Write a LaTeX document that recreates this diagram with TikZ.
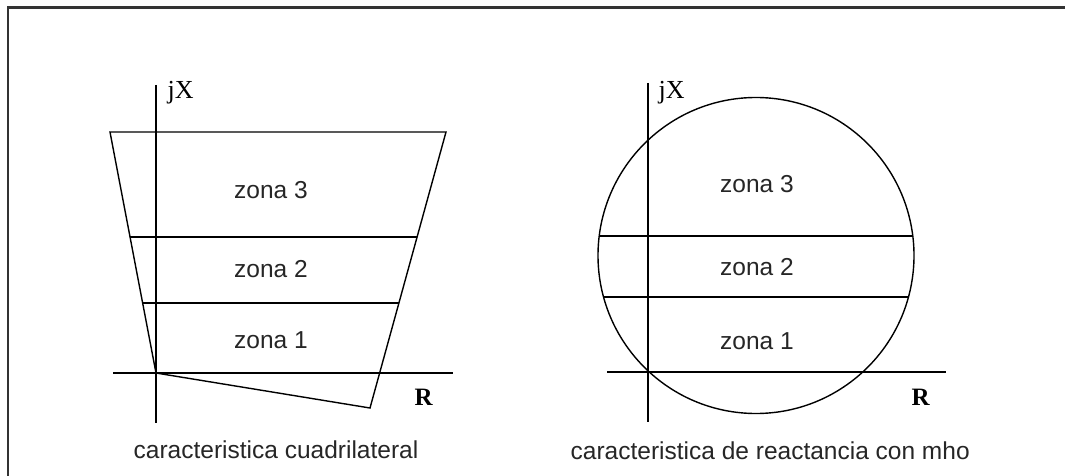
\documentclass[tikz,border=0pt]{standalone}
\usepackage{fontspec}
\setmainfont{Liberation Sans}
\newfontfamily\axfont{Liberation Serif}
\tikzset{
  zonelabel/.style={anchor=base, text=black!85, font=\fontsize{24.5}{28}\selectfont},
  axlabel/.style={anchor=base west, inner sep=0pt, font=\axfont\bfseries\fontsize{25}{28}\selectfont},
  captionlabel/.style={anchor=base west, inner sep=0pt, text=black!85, font=\fontsize{24.5}{28}\selectfont},
}
\begin{document}
\begin{tikzpicture}[x=1pt, y=-1pt, line width=1.4pt]
\useasboundingbox (0,0) rectangle (1065,476);
% marco
\draw[line width=2.2pt, black!80] (8,476) -- (8,7.5) -- (1065,7.5);

% caracteristica cuadrilateral
\coordinate (O1) at (156,373);
\coordinate (TL) at (110,132);
\coordinate (TR) at (446,132);
\coordinate (BR) at (370,408);
\draw (156,85) -- (156,423);
\draw (113,373) -- (453,373);
\draw (TL) -- (TR) -- (BR) -- (O1) -- cycle;
\begin{scope}
  \clip (TL) -- (TR) -- (BR) -- (O1) -- cycle;
  \foreach \y in {237,303}
    \draw (100,\y) -- (460,\y);
\end{scope}
\foreach \n/\y in {3/198, 2/277, 1/348}
  \node[zonelabel] (zq\n) at (271,\y) {zona \n};
\node[axlabel, font=\axfont\fontsize{26}{28}\selectfont] (jx1) at (167,99) {jX};
\node[axlabel] (r1) at (414,405) {R};
\node[captionlabel] (cap1) at (133,458) {caracteristica cuadrilateral};

% caracteristica mho
\coordinate (O2) at (648,372);
\coordinate (C2) at (756,255.5);
\draw (648,83) -- (648,422);
\draw (607,372) -- (946,372);
\draw (C2) circle (158);
\begin{scope}
  \clip (C2) circle (158);
  \foreach \y in {236,297}
    \draw (590,\y) -- (930,\y);
\end{scope}
\foreach \n/\y in {3/192, 2/275, 1/349}
  \node[zonelabel] (zm\n) at (757,\y) {zona \n};
\node[axlabel, font=\axfont\fontsize{26}{28}\selectfont] (jx2) at (658,99) {jX};
\node[axlabel] (r2) at (911,405) {R};
\node[captionlabel] (cap2) at (570,459) {caracteristica de reactancia con mho};
\end{tikzpicture}
\end{document}
